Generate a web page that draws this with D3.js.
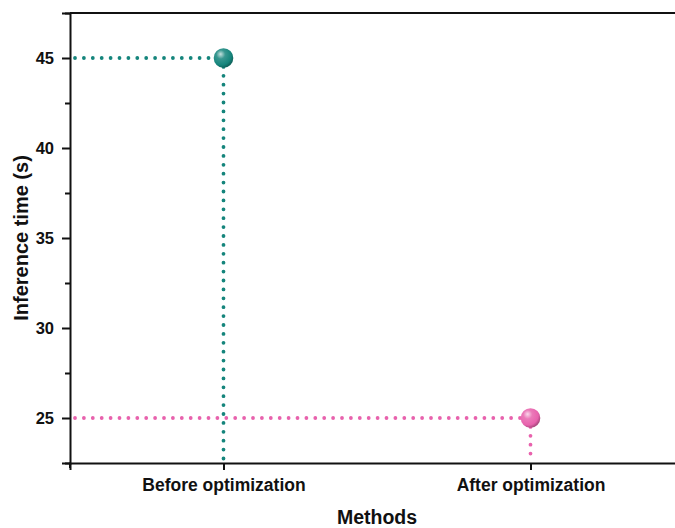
<!DOCTYPE html>
<html>
<head>
<meta charset="utf-8">
<script src="https://cdn.jsdelivr.net/npm/d3@7/dist/d3.min.js"></script>
<style>
  html, body { margin: 0; padding: 0; background: #fff; }
  svg { display: block; }
  text { font-family: "Liberation Sans", Arial, sans-serif; font-weight: bold; fill: #111; }
</style>
</head>
<body>
<svg id="chart" width="675" height="528"></svg>
<script>
// Inference time per method
const methods = ["Before optimization", "After optimization"];
const times = [45, 25];
const colors = ["#15857c", "#e862ad"];
const yTicks = [25, 30, 35, 40, 45];
const yMinorTicks = [22.5, 27.5, 32.5, 37.5, 42.5, 47.5];

(function draw() {
  const svg = d3.select("#chart");
  const plotL = 70, plotT = 13, plotB = 463, plotR = 684;

  const x = d3.scalePoint().domain(methods).range([plotL, plotR]).padding(0.5);
  const y = d3.scaleLinear().domain([22.5, 47.5]).range([plotB, plotT]);

  // Gradients for the sphere-like markers
  const defs = svg.append("defs");
  colors.forEach((c, i) => {
    const g = defs.append("radialGradient")
      .attr("id", "ball" + i)
      .attr("cx", "38%").attr("cy", "35%").attr("r", "65%")
      .attr("fx", "35%").attr("fy", "30%");
    g.append("stop").attr("offset", "0%").attr("stop-color", d3.interpolateRgb(c, "#fff")(0.75));
    g.append("stop").attr("offset", "35%").attr("stop-color", d3.interpolateRgb(c, "#fff")(0.15));
    g.append("stop").attr("offset", "80%").attr("stop-color", c);
    g.append("stop").attr("offset", "100%").attr("stop-color", d3.interpolateRgb(c, "#000")(0.25));
  });

  // Frame: top and right lines
  svg.append("line").attr("x1", plotL).attr("x2", plotR).attr("y1", plotT).attr("y2", plotT)
    .attr("stroke", "#111").attr("stroke-width", 2);
  svg.append("line").attr("x1", plotR).attr("x2", plotR).attr("y1", plotT).attr("y2", plotB)
    .attr("stroke", "#111").attr("stroke-width", 2);

  // Y axis
  const yAxis = svg.append("g").attr("transform", `translate(${plotL},0)`)
    .call(d3.axisLeft(y).tickValues(yTicks).tickSize(8).tickPadding(8).tickFormat(d3.format("d")));
  yAxis.select(".domain").attr("stroke", "#111").attr("stroke-width", 2);
  yAxis.selectAll(".tick line").attr("stroke", "#111").attr("stroke-width", 2);
  yAxis.selectAll(".tick text").style("font-size", "16.5px").attr("fill", "#111");

  const yMinor = svg.append("g").attr("transform", `translate(${plotL},0)`)
    .call(d3.axisLeft(y).tickValues(yMinorTicks).tickSize(5).tickFormat(""));
  yMinor.select(".domain").remove();
  yMinor.selectAll(".tick line").attr("stroke", "#111").attr("stroke-width", 2);

  // X axis
  const xAxis = svg.append("g").attr("transform", `translate(0,${plotB})`)
    .call(d3.axisBottom(x).tickSize(7).tickPadding(9));
  xAxis.select(".domain").attr("stroke", "#111").attr("stroke-width", 2);
  xAxis.selectAll(".tick line").attr("stroke", "#111").attr("stroke-width", 2);
  xAxis.selectAll(".tick text").style("font-size", "17.5px").attr("fill", "#111");

  // Minor x tick at the left plot edge
  svg.append("line")
    .attr("x1", plotL).attr("x2", plotL).attr("y1", plotB).attr("y2", plotB + 5)
    .attr("stroke", "#111").attr("stroke-width", 2);

  // Axis titles
  svg.append("text").attr("x", (plotL + plotR) / 2).attr("y", 524)
    .attr("text-anchor", "middle").style("font-size", "19.5px").text("Methods");
  svg.append("text")
    .attr("transform", `translate(28,${(plotT + plotB) / 2}) rotate(-90)`)
    .attr("text-anchor", "middle").style("font-size", "20px").text("Inference time (s)");

  // Dotted drop lines from each point to both axes
  const drops = svg.append("g");
  methods.forEach((m, i) => {
    const px = x(m), py = y(times[i]);
    drops.append("line")
      .attr("x1", plotL + 5).attr("x2", px).attr("y1", py).attr("y2", py)
      .attr("stroke", colors[i]).attr("stroke-width", 3.8)
      .attr("stroke-linecap", "round").attr("stroke-dasharray", "0 8.9");
    drops.append("line")
      .attr("x1", px).attr("x2", px).attr("y1", py).attr("y2", plotB - 2)
      .attr("stroke", colors[i]).attr("stroke-width", 3.8)
      .attr("stroke-linecap", "round").attr("stroke-dasharray", "0 8.9");
  });

  // Markers
  svg.append("g").selectAll("circle").data(methods).join("circle")
    .attr("cx", d => x(d)).attr("cy", (d, i) => y(times[i])).attr("r", 9.8)
    .attr("fill", (d, i) => `url(#ball${i})`);
})();
</script>
</body>
</html>
